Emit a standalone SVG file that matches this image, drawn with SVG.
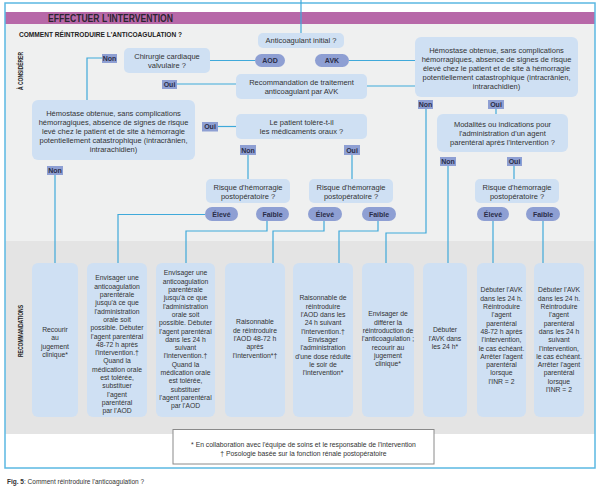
<svg xmlns="http://www.w3.org/2000/svg" width="600" height="488" viewBox="0 0 600 488">
<style>
text{font-family:"Liberation Sans",Arial,sans-serif;fill:#333}
.n{fill:#cfe0f3}
.p{fill:#8e9fd3}
.t{font-size:7.5px;text-anchor:middle}
.b{font-size:6.8px;text-anchor:middle}
.l{font-size:7px;font-weight:bold;text-anchor:middle;fill:#2a2d48}
.c{fill:none;stroke:#3fa9da;stroke-width:1.2}
</style>
<rect x="0" y="0" width="600" height="488" fill="#fff"/>
<rect x="5" y="24" width="590" height="217" fill="#eff0f0"/>
<rect x="5" y="241" width="590" height="193" fill="#e4e4e4"/>
<rect x="5" y="12" width="590" height="12" fill="#b768a8"/>
<rect x="5" y="3" width="590" height="465" fill="none" stroke="#5bb8e2" stroke-width="1.5"/>
<text x="48" y="21.5" font-size="10" font-weight="bold" textLength="125" lengthAdjust="spacingAndGlyphs" style="fill:#2b2430">EFFECTUER L'INTERVENTION</text>
<text x="19" y="37" font-size="8" font-weight="bold" textLength="163" lengthAdjust="spacingAndGlyphs" style="fill:#222">COMMENT RÉINTRODUIRE L'ANTICOAGULATION ?</text>
<text transform="translate(22.5,90) rotate(-90)" font-size="6.5" font-weight="bold" textLength="38" lengthAdjust="spacingAndGlyphs" style="fill:#222">À CONSIDÉRER</text>
<text transform="translate(22.5,357) rotate(-90)" font-size="6.5" font-weight="bold" textLength="52" lengthAdjust="spacingAndGlyphs" style="fill:#222">RECOMMANDATIONS</text>

<g id="connectors">
<path class="c" d="M301,0 V33"/>
<path class="c" d="M210,60.5 H255"/>
<path class="c" d="M349,60.5 H415"/>
<path class="c" d="M102,58 H87 V100"/>
<path class="c" d="M177,84 H236"/>
<path class="c" d="M367,86 H415"/>
<path class="c" d="M218,126.5 H236"/>
<path class="c" d="M426,109 V233 H386 V263"/>
<path class="c" d="M496,109 V114"/>
<path class="c" d="M448,166 V263"/>
<path class="c" d="M514,166 V179"/>
<path class="c" d="M493,221 V263"/>
<path class="c" d="M543,221 V263"/>
<path class="c" d="M248,155 V179"/>
<path class="c" d="M352,155 V179"/>
<path class="c" d="M205,214.5 H118 V263"/>
<path class="c" d="M267,221 V231 H186 V263"/>
<path class="c" d="M324,221 V231 H273 V263"/>
<path class="c" d="M378,221 V231 H339 V263"/>
<path class="c" d="M55,175 V263"/>
</g>

<g id="anticoag-initial"><rect class="n" x="258" y="33" width="86" height="15" rx="5"/><text class="t" x="301" y="43">Anticoagulant initial ?</text></g>
<g id="aod"><rect class="p" x="255" y="54" width="30" height="13" rx="6.5"/><text class="l" x="270" y="63">AOD</text></g>
<g id="avk"><rect class="p" x="315" y="54" width="34" height="13" rx="6.5"/><text class="l" x="332" y="63">AVK</text></g>
<g id="chirurgie"><rect class="n" x="124" y="48" width="86" height="25" rx="5"/><text class="t" x="167" y="59"><tspan x="167">Chirurgie cardiaque</tspan><tspan x="167" dy="9.3">valvulaire ?</tspan></text></g>
<g id="non-chir"><rect class="p" x="102" y="54" width="15" height="9"/><text class="l" x="109.5" y="61">Non</text></g>
<g id="oui-chir"><rect class="p" x="162" y="80" width="15" height="9"/><text class="l" x="169.5" y="87">Oui</text></g>
<g id="recommandation-avk"><rect class="n" x="236" y="74" width="131" height="25" rx="5"/><text class="t" x="301.5" y="84.5"><tspan x="301.5">Recommandation de traitement</tspan><tspan x="301.5" dy="9">anticoagulant par AVK</tspan></text></g>
<g id="hemostase-avk"><rect class="n" x="415" y="37" width="163" height="60" rx="6"/><text class="t" x="496.5" y="52.6"><tspan x="496.5">Hémostase obtenue, sans complications</tspan><tspan x="496.5" dy="9">hémorragiques, absence de signes de risque</tspan><tspan x="496.5" dy="9">élevé chez le patient et de site à hémorragie</tspan><tspan x="496.5" dy="9">potentiellement catastrophique (intracrânien,</tspan><tspan x="496.5" dy="9">intrarachidien)</tspan></text></g>
<g id="hemostase-aod"><rect class="n" x="32" y="100" width="163" height="60" rx="6"/><text class="t" x="113.5" y="115.6"><tspan x="113.5">Hémostase obtenue, sans complications</tspan><tspan x="113.5" dy="9">hémorragiques, absence de signes de risque</tspan><tspan x="113.5" dy="9">levé chez le patient et de site à hémorragie</tspan><tspan x="113.5" dy="9">potentiellement catastrophique (intracrânien,</tspan><tspan x="113.5" dy="9">intrarachidien)</tspan></text></g>
<g id="non-hem-avk"><rect class="p" x="418" y="100" width="15" height="9"/><text class="l" x="425.5" y="107">Non</text></g>
<g id="oui-hem-avk"><rect class="p" x="488" y="100" width="16" height="9"/><text class="l" x="496" y="107">Oui</text></g>
<g id="modalites"><rect class="n" x="437" y="114" width="131" height="38" rx="6"/><text class="t" x="502.5" y="126.6"><tspan x="502.5">Modalités ou indications pour</tspan><tspan x="502.5" dy="9">l'administration d'un agent</tspan><tspan x="502.5" dy="9">parentéral après l'intervention ?</tspan></text></g>
<g id="non-mod"><rect class="p" x="440" y="157" width="16" height="9"/><text class="l" x="448" y="164">Non</text></g>
<g id="oui-mod"><rect class="p" x="507" y="157" width="15" height="9"/><text class="l" x="514.5" y="164">Oui</text></g>
<g id="risque-r"><rect class="n" x="475" y="179" width="84" height="24" rx="5"/><text class="t" x="517" y="189.5"><tspan x="517">Risque d'hémorragie</tspan><tspan x="517" dy="9">postopératoire ?</tspan></text></g>
<g id="eleve-r"><rect class="p" x="477" y="207" width="32" height="14" rx="7"/><text class="l" x="493" y="216.5">Élevé</text></g>
<g id="faible-r"><rect class="p" x="526" y="207" width="34" height="14" rx="7"/><text class="l" x="543" y="216.5">Faible</text></g>
<g id="oui-hem-aod"><rect class="p" x="202" y="122" width="16" height="9.5"/><text class="l" x="210" y="129.3">Oui</text></g>
<g id="tolere"><rect class="n" x="236" y="114" width="131" height="25" rx="5"/><text class="t" x="301.5" y="124.5"><tspan x="301.5">Le patient tolère-t-il</tspan><tspan x="301.5" dy="9.3">les médicaments oraux ?</tspan></text></g>
<g id="non-tol"><rect class="p" x="240" y="145" width="16" height="10"/><text class="l" x="248" y="152.5">Non</text></g>
<g id="oui-tol"><rect class="p" x="344" y="145" width="16" height="10"/><text class="l" x="352" y="152.5">Oui</text></g>
<g id="risque-l"><rect class="n" x="206" y="179" width="84" height="24" rx="5"/><text class="t" x="248" y="189.5"><tspan x="248">Risque d'hémorragie</tspan><tspan x="248" dy="9">postopératoire ?</tspan></text></g>
<g id="risque-m"><rect class="n" x="309" y="179" width="84" height="24" rx="5"/><text class="t" x="351" y="189.5"><tspan x="351">Risque d'hémorragie</tspan><tspan x="351" dy="9">postopératoire ?</tspan></text></g>
<g id="eleve-l"><rect class="p" x="205" y="207" width="33" height="14" rx="7"/><text class="l" x="221.5" y="216.5">Élevé</text></g>
<g id="faible-l"><rect class="p" x="256" y="207" width="33" height="14" rx="7"/><text class="l" x="272.5" y="216.5">Faible</text></g>
<g id="eleve-m"><rect class="p" x="308" y="207" width="34" height="14" rx="7"/><text class="l" x="325" y="216.5">Élevé</text></g>
<g id="faible-m"><rect class="p" x="362" y="207" width="34" height="14" rx="7"/><text class="l" x="379" y="216.5">Faible</text></g>
<g id="non-hem-aod"><rect class="p" x="47" y="166" width="16" height="9"/><text class="l" x="55" y="173">Non</text></g>

<g id="reco-1"><rect class="n" x="32" y="263" width="46" height="154" rx="6"/><text class="b" x="55" y="332"><tspan x="55">Recourir</tspan><tspan x="55" dy="8.3">au</tspan><tspan x="55" dy="8.3">jugement</tspan><tspan x="55" dy="8.3">clinique*</tspan></text></g>
<g id="reco-2"><rect class="n" x="87" y="263" width="60" height="154" rx="6"/><text class="b" x="117" y="280.4"><tspan x="117">Envisager une</tspan><tspan x="117" dy="8.3">anticoagulation</tspan><tspan x="117" dy="8.3">parentérale</tspan><tspan x="117" dy="8.3">jusqu'à ce que</tspan><tspan x="117" dy="8.3">l'administration</tspan><tspan x="117" dy="8.3">orale soit</tspan><tspan x="117" dy="8.3">possible. Débuter</tspan><tspan x="117" dy="8.3">l'agent parentéral</tspan><tspan x="117" dy="8.3">48-72 h après</tspan><tspan x="117" dy="8.3">l'intervention.†</tspan><tspan x="117" dy="8.3">Quand la</tspan><tspan x="117" dy="8.3">médication orale</tspan><tspan x="117" dy="8.3">est tolérée,</tspan><tspan x="117" dy="8.3">substituer</tspan><tspan x="117" dy="8.3">l'agent</tspan><tspan x="117" dy="8.3">parentéral</tspan><tspan x="117" dy="8.3">par l'AOD</tspan></text></g>
<g id="reco-3"><rect class="n" x="156" y="263" width="59" height="154" rx="6"/><text class="b" x="185.5" y="275.4"><tspan x="185.5">Envisager une</tspan><tspan x="185.5" dy="8.3">anticoagulation</tspan><tspan x="185.5" dy="8.3">parentérale</tspan><tspan x="185.5" dy="8.3">jusqu'à ce que</tspan><tspan x="185.5" dy="8.3">l'administration</tspan><tspan x="185.5" dy="8.3">orale soit</tspan><tspan x="185.5" dy="8.3">possible. Débuter</tspan><tspan x="185.5" dy="8.3">l'agent parentéral</tspan><tspan x="185.5" dy="8.3">dans les 24 h</tspan><tspan x="185.5" dy="8.3">suivant</tspan><tspan x="185.5" dy="8.3">l'intervention.†</tspan><tspan x="185.5" dy="8.3">Quand la</tspan><tspan x="185.5" dy="8.3">médication orale</tspan><tspan x="185.5" dy="8.3">est tolérée,</tspan><tspan x="185.5" dy="8.3">substituer</tspan><tspan x="185.5" dy="8.3">l'agent parentéral</tspan><tspan x="185.5" dy="8.3">par l'AOD</tspan></text></g>
<g id="reco-4"><rect class="n" x="225" y="263" width="60" height="154" rx="6"/><text class="b" x="255" y="324.4"><tspan x="255">Raisonnable</tspan><tspan x="255" dy="8.3">de réintroduire</tspan><tspan x="255" dy="8.3">l'AOD 48-72 h</tspan><tspan x="255" dy="8.3">après</tspan><tspan x="255" dy="8.3">l'intervention*†</tspan></text></g>
<g id="reco-5"><rect class="n" x="293" y="263" width="60" height="154" rx="6"/><text class="b" x="323" y="300.4"><tspan x="323">Raisonnable de</tspan><tspan x="323" dy="8.3">réintroduire</tspan><tspan x="323" dy="8.3">l'AOD dans les</tspan><tspan x="323" dy="8.3">24 h suivant</tspan><tspan x="323" dy="8.3">l'intervention.†</tspan><tspan x="323" dy="8.3">Envisager</tspan><tspan x="323" dy="8.3">l'administration</tspan><tspan x="323" dy="8.3">d'une dose réduite</tspan><tspan x="323" dy="8.3">le soir de</tspan><tspan x="323" dy="8.3">l'intervention*</tspan></text></g>
<g id="reco-6"><rect class="n" x="362" y="263" width="52" height="154" rx="6"/><text class="b" x="388" y="316.4"><tspan x="388">Envisager de</tspan><tspan x="388" dy="8.3">différer la</tspan><tspan x="388" dy="8.3">réintroduction de</tspan><tspan x="388" dy="8.3">l'anticoagulation ;</tspan><tspan x="388" dy="8.3">recourir au</tspan><tspan x="388" dy="8.3">jugement</tspan><tspan x="388" dy="8.3">clinique*</tspan></text></g>
<g id="reco-7"><rect class="n" x="423" y="263" width="44" height="154" rx="6"/><text class="b" x="445" y="332.4"><tspan x="445">Débuter</tspan><tspan x="445" dy="8.3">l'AVK dans</tspan><tspan x="445" dy="8.3">les 24 h*</tspan></text></g>
<g id="reco-8"><rect class="n" x="477" y="263" width="49" height="154" rx="6"/><text class="b" x="501.5" y="292.4"><tspan x="501.5">Débuter l'AVK</tspan><tspan x="501.5" dy="8.3">dans les 24 h.</tspan><tspan x="501.5" dy="8.3">Réintroduire</tspan><tspan x="501.5" dy="8.3">l'agent</tspan><tspan x="501.5" dy="8.3">parentéral</tspan><tspan x="501.5" dy="8.3">48-72 h après</tspan><tspan x="501.5" dy="8.3">l'intervention,</tspan><tspan x="501.5" dy="8.3">le cas échéant.</tspan><tspan x="501.5" dy="8.3">Arrêter l'agent</tspan><tspan x="501.5" dy="8.3">parentéral</tspan><tspan x="501.5" dy="8.3">lorsque</tspan><tspan x="501.5" dy="8.3">l'INR = 2</tspan></text></g>
<g id="reco-9"><rect class="n" x="534" y="263" width="50" height="154" rx="6"/><text class="b" x="559" y="292.4"><tspan x="559">Débuter l'AVK</tspan><tspan x="559" dy="8.3">dans les 24 h.</tspan><tspan x="559" dy="8.3">Réintroduire</tspan><tspan x="559" dy="8.3">l'agent</tspan><tspan x="559" dy="8.3">parentéral</tspan><tspan x="559" dy="8.3">dans les 24 h</tspan><tspan x="559" dy="8.3">suivant</tspan><tspan x="559" dy="8.3">l'intervention,</tspan><tspan x="559" dy="8.3">le cas échéant.</tspan><tspan x="559" dy="8.3">Arrêter l'agent</tspan><tspan x="559" dy="8.3">parentéral</tspan><tspan x="559" dy="8.3">lorsque</tspan><tspan x="559" dy="8.3">l'INR = 2</tspan></text></g>

<g id="footnotes"><rect x="173" y="429.5" width="261" height="34.5" fill="#fff" stroke="#8a8a8a" stroke-width="1"/><text class="b" x="303.5" y="446.5"><tspan x="303.5">* En collaboration avec l'équipe de soins et le responsable de l'intervention</tspan><tspan x="303.5" dy="9.5">† Posologie basée sur la fonction rénale postopératoire</tspan></text></g>
<text x="7" y="484" font-size="6.5"><tspan font-weight="bold">Fig. 5</tspan>: Comment réintroduire l'anticoagulation ?</text>
</svg>
